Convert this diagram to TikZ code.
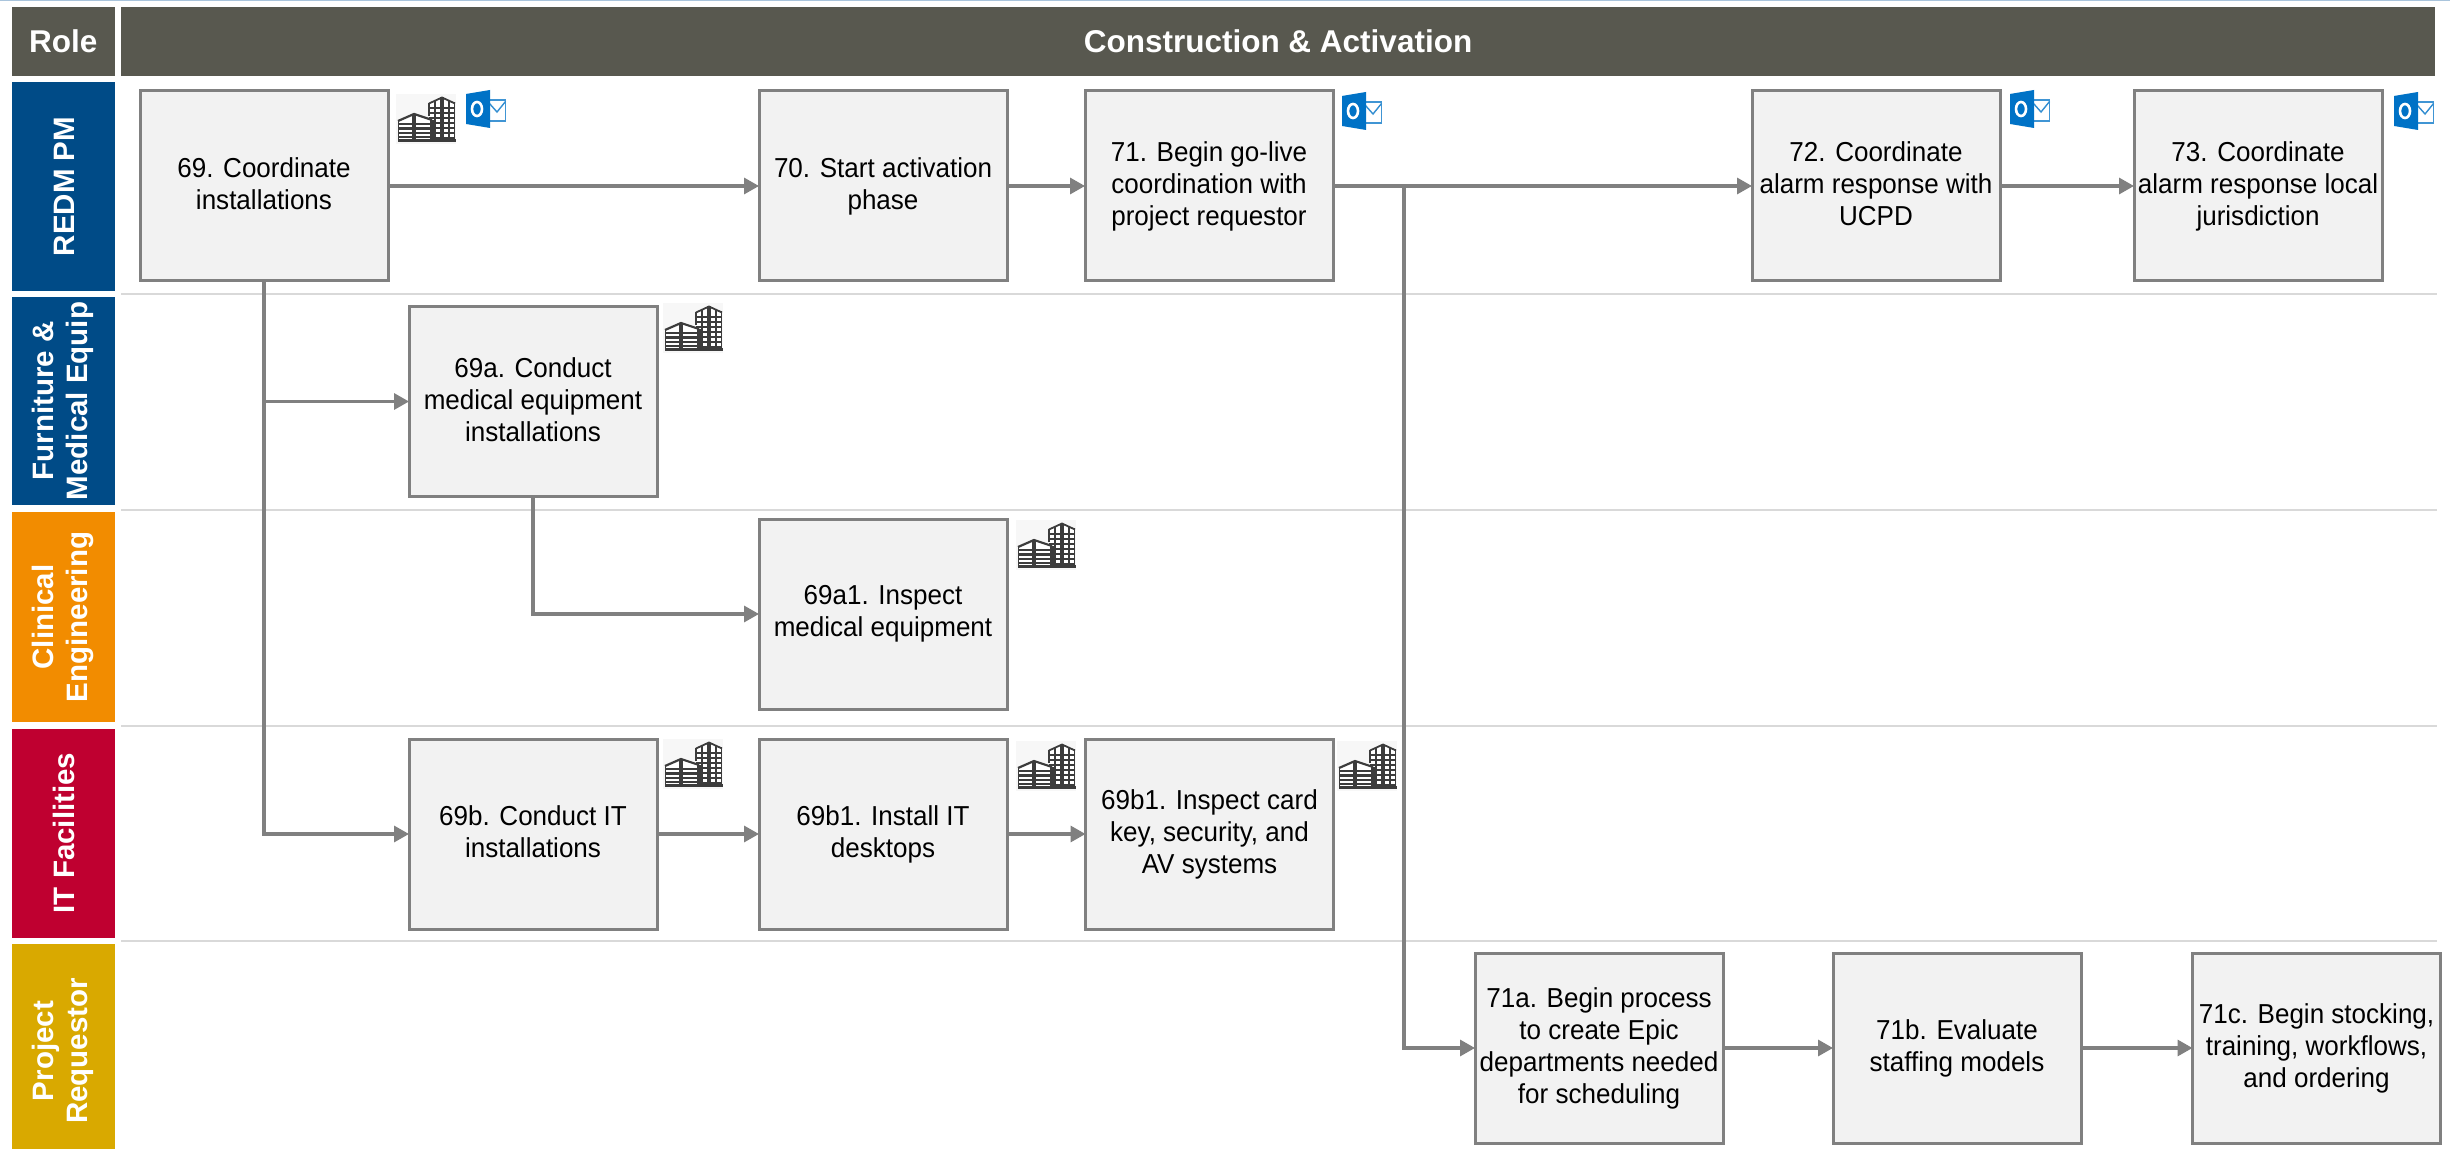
\documentclass[tikz,border=0pt]{standalone}
\usepackage{fontspec}
\setmainfont{Liberation Sans}
\newfontfamily\stepfont[FakeStretch=0.95]{Liberation Sans}
\usetikzlibrary{arrows.meta}
\definecolor{headgray}{HTML}{58584F}
\definecolor{laneblue}{HTML}{004B87}
\definecolor{laneorange}{HTML}{F28C00}
\definecolor{lanered}{HTML}{BF0030}
\definecolor{lanegold}{HTML}{D9A900}
\definecolor{boxfill}{HTML}{F2F2F2}
\definecolor{boxline}{HTML}{808080}
\definecolor{sepline}{HTML}{D9D9D9}
\definecolor{olblue}{HTML}{0072C6}
\definecolor{olback}{HTML}{F7F7F7}
\definecolor{bldg}{HTML}{3C3C3C}
\definecolor{topline}{HTML}{A9C4DC}
\newcommand{\stepstrut}{\rule[-2.2pt]{0pt}{16pt}}
\newcommand{\lanestrut}{\rule[-2.75pt]{0pt}{17pt}}
\tikzset{
  x=.5pt,y=-.5pt,
  header/.style={fill=headgray,text=white,inner sep=0pt,outer sep=0pt,
    font=\fontsize{15.75}{18}\selectfont\bfseries,minimum height=34.5pt},
  lane/.style={rotate=90,text=white,inner sep=0pt,outer sep=0pt,align=center,
    font=\fontsize{14.75}{17}\selectfont\bfseries,minimum height=51.75pt,
    execute at begin node=\lanestrut,execute at end node=\lanestrut},
  stepbox/.style={draw=boxline,line width=1.5pt,fill=boxfill,inner sep=0pt,outer sep=0pt,
    minimum width=124pt,minimum height=95pt,align=center,
    font=\stepfont\fontsize{13.7}{16}\selectfont,
    execute at begin node=\stepstrut,execute at end node=\stepstrut},
  flow/.style={draw=boxline,line width=1.6pt,-{Triangle[length=7.5pt,width=8pt]}},
  sep/.style={draw=sepline,line width=1pt},
  building/.pic={
    \fill[olback] (0,0) rectangle (60,50);
    % right tower
    \fill[white] (33,9) -- (46,3) -- (59,9) -- (59,47) -- (33,47) -- cycle;
    \draw[bldg,line width=.55pt] (33,14) -- (59,14) (33,19) -- (59,19) (33,24) -- (59,24)
      (37,29) -- (59,29) (37,34) -- (59,34) (37,39) -- (59,39) (37,44) -- (59,44)
      (39,7) -- (39,47) (53,6) -- (53,47) (58.5,8) -- (58.5,47) (33,9) -- (33,22);
    \draw[bldg,line width=.9pt] (33,9.5) -- (46,3.5) -- (59,9.5);
    \draw[bldg,line width=1.6pt] (46,3.5) -- (46,47);
    % left block
    \fill[white] (2,26) -- (18,19) -- (36,26) -- (36,47) -- (2,47) -- cycle;
    \draw[bldg,line width=1.1pt] (2,27) -- (18,20) -- (36,26);
    \draw[bldg,line width=1.1pt] (2,30) -- (36,30) (2,34.5) -- (36,34.5) (2,39) -- (36,39) (2,43) -- (36,43);
    \draw[bldg,line width=.7pt] (2.5,26.5) -- (2.5,47);
    \draw[bldg,line width=1.7pt] (18,20) -- (18,47) (36,26) -- (36,47);
    \fill[bldg] (2,45) rectangle (59.5,48);
  },
  outlook/.pic={
    \draw[olblue!75,line width=.7pt,fill=white] (23,10) rectangle (39.5,31);
    \draw[olblue!80,line width=.7pt] (23,13) -- (31,22) -- (39.5,11.5);
    \fill[olblue] (0,4) -- (24,0) -- (24,38) -- (0,34) -- cycle;
    \draw[white,line width=1.3pt] (11,19) ellipse [x radius=5,y radius=7];
  },
}
\begin{document}
\begin{tikzpicture}
\useasboundingbox (0,0) rectangle (2450,1149);
\fill[white] (0,0) rectangle (2450,1149);
\fill[topline] (0,0) rectangle (2450,1.5);
% headers
\node[header,minimum width=51.75pt] (role) at (63.25,41.5) {Role};
\node[header,minimum width=1157pt] (main) at (1278,41.5) {Construction \& Activation};
% lanes
\node[lane,fill=laneblue,minimum width=104.5pt] (l1) at (63.25,186.5) {REDM PM};
\node[lane,fill=laneblue,minimum width=104pt] (l2) at (63.25,401) {Furniture \&\\Medical Equip};
\node[lane,fill=laneorange,minimum width=105pt] (l3) at (63.25,617) {Clinical\\Engineering};
\node[lane,fill=lanered,minimum width=104.5pt] (l4) at (63.25,833) {IT Facilities};
\begin{scope}
\clip (0,0) rectangle (2450,1149);
\node[lane,fill=lanegold,minimum width=107pt] (l5) at (63.25,1051) {Project\\Requestor};
\end{scope}
% separators
\coordinate (s1a) at (121,294.5); \coordinate (s1b) at (2437,294.5);
\coordinate (s2a) at (121,510);   \coordinate (s2b) at (2437,510);
\coordinate (s3a) at (121,725.5); \coordinate (s3b) at (2437,725.5);
\coordinate (s4a) at (121,941);   \coordinate (s4b) at (2437,941);
\draw[sep] (s1a) -- (s1b);
\draw[sep] (s2a) -- (s2b);
\draw[sep] (s3a) -- (s3b);
\draw[sep] (s4a) -- (s4b);
% steps
\node[stepbox] (n69) at (264,186) {69. Coordinate\\installations};
\node[stepbox] (n70) at (883,186) {70. Start activation\\phase};
\node[stepbox] (n71) at (1209,186) {71. Begin go-live\\coordination with\\project requestor};
\node[stepbox] (n72) at (1876,186) {72. Coordinate\\alarm response with\\UCPD};
\node[stepbox] (n73) at (2258,186) {73. Coordinate\\alarm response local\\jurisdiction};
\node[stepbox] (n69a) at (533,401.5) {69a. Conduct\\medical equipment\\installations};
\node[stepbox] (n69a1) at (883,614) {69a1. Inspect\\medical equipment};
\node[stepbox] (n69b) at (533,834) {69b. Conduct IT\\installations};
\node[stepbox] (n69b1) at (883,834) {69b1. Install IT\\desktops};
\node[stepbox] (n69b2) at (1209.5,834) {69b1. Inspect card\\key, security, and\\AV systems};
\node[stepbox] (n71a) at (1599,1048) {71a. Begin process\\to create Epic\\departments needed\\for scheduling};
\node[stepbox] (n71b) at (1957,1048) {71b. Evaluate\\staffing models};
\node[stepbox] (n71c) at (2316.5,1048) {71c. Begin stocking,\\training, workflows,\\and ordering};
% connectors
\coordinate (j71) at (1404,186);
\draw[flow] (n69) -- (n70);
\draw[flow] (n70) -- (n71);
\draw[flow] (n71) -- (n72);
\draw[flow] (n72) -- (n73);
\draw[flow] (n69.south) |- (n69a.west);
\draw[flow] (n69.south) |- (n69b.west);
\draw[flow] (n69a.south) |- (n69a1.west);
\draw[flow] (n69b) -- (n69b1);
\draw[flow] (n69b1) -- (n69b2);
\draw[flow] (j71) |- (n71a.west);
\draw[flow] (n71a) -- (n71b);
\draw[flow] (n71b) -- (n71c);
% icons
\pic at (396,94) {building};
\pic at (663,303) {building};
\pic at (1016,520) {building};
\pic at (663,739) {building};
\pic at (1016,741) {building};
\pic at (1337,741) {building};
\pic at (466,90) {outlook};
\pic at (1342,92) {outlook};
\pic at (2010,90) {outlook};
\pic at (2394,92) {outlook};
\end{tikzpicture}
\end{document}
